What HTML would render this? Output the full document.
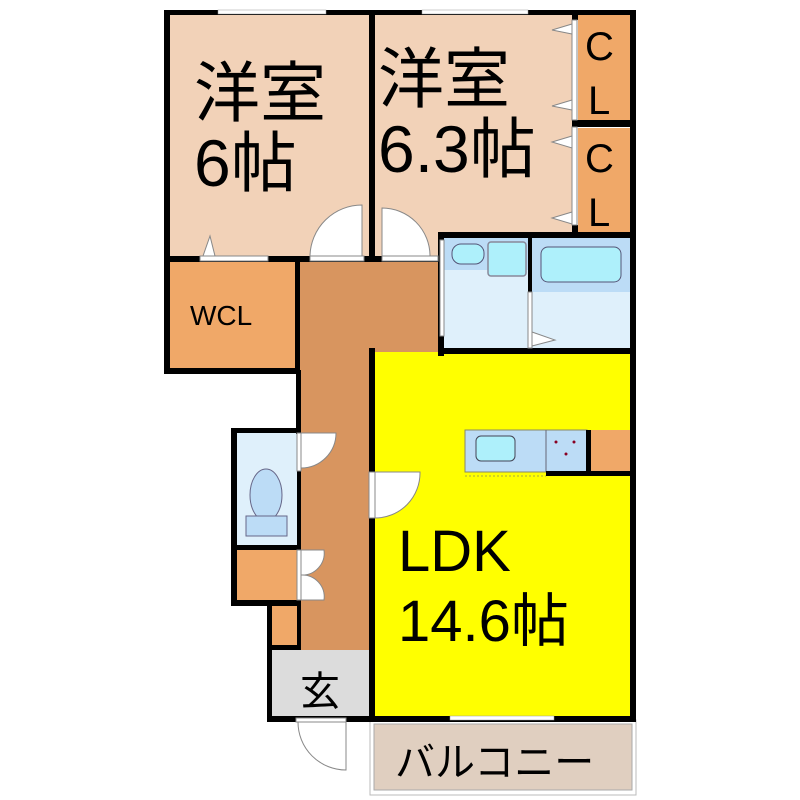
<!DOCTYPE html>
<html><head><meta charset="utf-8"><style>
html,body{margin:0;padding:0;background:#fff;width:800px;height:800px;overflow:hidden}
svg{display:block}
text{font-family:"Liberation Sans","Noto Sans CJK JP",sans-serif;fill:#000}
</style></head><body>
<svg width="800" height="800" viewBox="0 0 800 800" xmlns="http://www.w3.org/2000/svg">
<rect x="170" y="14" width="200" height="244" fill="#f2d2b8"/>
<rect x="374" y="14" width="200" height="244" fill="#f2d2b8"/>
<rect x="578" y="14" width="52" height="110" fill="#f0a868"/>
<rect x="578" y="128" width="52" height="104" fill="#f0a868"/>
<rect x="170" y="262" width="126" height="108" fill="#f0a868"/>
<rect x="298" y="260" width="144" height="92" fill="#d8955f"/>
<rect x="298" y="350" width="74" height="300" fill="#d8955f"/>
<rect x="444" y="238" width="186" height="112" fill="#dff0fb"/>
<rect x="444" y="238" width="86" height="32" fill="#bcdcf6"/>
<rect x="532" y="238" width="98" height="54" fill="#bcdcf6"/>
<rect x="452" y="244" width="32" height="20" rx="9" fill="#aef0fb" stroke="#557" stroke-width="1"/>
<rect x="488" y="242" width="38" height="34" rx="3" fill="#aef0fb" stroke="#889" stroke-width="1.5"/>
<rect x="541" y="247" width="80" height="35" rx="7" fill="#aef0fb" stroke="#557" stroke-width="1"/>
<rect x="237" y="433" width="61" height="112" fill="#dff0fb"/>
<ellipse cx="266" cy="495" rx="16" ry="26" fill="#bcdcf6" stroke="#668" stroke-width="1"/>
<rect x="246" y="516" width="41" height="20" fill="#bcdcf6" stroke="#668" stroke-width="1"/>
<rect x="237" y="550" width="61" height="50" fill="#f0a868"/>
<rect x="272" y="606" width="26" height="40" fill="#f0a868"/>
<rect x="272" y="650" width="100" height="68" fill="#dcdcdc"/>
<rect x="374" y="352" width="256" height="366" fill="#ffff00"/>
<rect x="374" y="724" width="258" height="66" fill="#e0cfc0" stroke="#aaa" stroke-width="1"/>
<rect x="370" y="720" width="266" height="75" fill="none" stroke="#bbb" stroke-width="1"/>
<rect x="465" y="430" width="122" height="42" fill="#bcdcf6" stroke="#886" stroke-width="1"/>
<line x1="546" y1="430" x2="546" y2="472" stroke="#667" stroke-width="1"/>
<rect x="476" y="436" width="39" height="25" rx="5" fill="#aef0fb" stroke="#445" stroke-width="1"/>
<circle cx="556" cy="442" r="1.5" fill="#802"/><circle cx="574" cy="442" r="1.5" fill="#802"/><circle cx="566" cy="454" r="1.5" fill="#802"/>
<line x1="465" y1="476" x2="546" y2="476" stroke="#aa4" stroke-dasharray="2,2"/>
<rect x="591" y="430" width="39" height="42" fill="#f0a868"/>
<g fill="#000">
<rect x="164" y="10" width="472" height="5"/>
<rect x="164" y="10" width="6" height="364"/>
<rect x="369" y="10" width="6" height="252"/>
<rect x="630" y="10" width="6" height="712"/>
<rect x="572" y="10" width="6" height="10"/>
<rect x="572" y="120" width="58" height="7"/>
<rect x="572" y="225" width="6" height="12"/>
<rect x="164" y="256" width="276" height="6"/>
<rect x="295" y="256" width="5" height="118"/>
<rect x="164" y="368" width="136" height="6"/>
<rect x="438" y="232" width="198" height="6"/>
<rect x="438" y="232" width="6" height="124"/>
<rect x="528" y="232" width="4" height="60"/>
<rect x="438" y="348" width="198" height="6"/>
<rect x="369" y="348" width="6" height="374"/>
<rect x="296" y="370" width="5" height="64"/>
<rect x="231" y="428" width="70" height="5"/>
<rect x="231" y="428" width="6" height="178"/>
<rect x="297" y="428" width="4" height="222"/>
<rect x="231" y="545" width="70" height="5"/>
<rect x="231" y="600" width="70" height="6"/>
<rect x="267" y="600" width="5" height="122"/>
<rect x="267" y="645" width="34" height="5"/>
<rect x="267" y="716" width="369" height="6"/>
<rect x="586" y="430" width="5" height="45"/>
<rect x="546" y="471" width="90" height="5"/>
</g>
<rect x="218" y="10" width="108" height="4" fill="#fff" stroke="#999" stroke-width="0.5"/>
<rect x="422" y="10" width="106" height="4" fill="#fff" stroke="#999" stroke-width="0.5"/>
<rect x="450" y="716" width="104" height="4" fill="#fff" stroke="#999" stroke-width="0.5"/>
<g fill="#fff" stroke="#888" stroke-width="1">
<rect x="200" y="256" width="68" height="5"/>
<polygon points="203,256 210,236 215,256"/>
<rect x="310" y="256" width="54" height="5"/>
<path d="M362,256 L362,205 A52,52 0 0 0 310,256 Z"/>
<rect x="382" y="256" width="56" height="5"/>
<path d="M382,256 L382,208 A48,48 0 0 1 430,256 Z"/>
<rect x="572" y="20" width="5" height="100"/>
<polygon points="572,24 552,30 572,34"/><polygon points="572,100 552,106 572,110"/>
<rect x="572" y="127" width="5" height="98"/>
<polygon points="572,136 552,142 572,148"/><polygon points="572,212 552,218 572,224"/>
<rect x="440" y="240" width="4" height="96"/>
<rect x="528" y="292" width="4" height="56"/>
<polygon points="532,332 555,340 532,346"/>
<rect x="297" y="433" width="4" height="38"/>
<path d="M301,433 L336,433 A35,35 0 0 1 301,468 Z"/>
<rect x="297" y="550" width="4" height="50"/>
<path d="M301,550 L324,550 A22,22 0 0 1 301,575 A22,22 0 0 1 324,600 L301,600 Z"/>
<rect x="369" y="472" width="6" height="46"/>
<path d="M375,472 L420,472 A45,45 0 0 1 375,518 Z"/>
<rect x="296" y="718" width="50" height="4"/>
<path d="M346,722 L346,770 A48,48 0 0 1 298,722 Z"/>
</g>
<text x="194" y="116" font-size="66">洋室</text>
<text x="194" y="186" font-size="66">6帖</text>
<text x="378" y="102" font-size="66">洋室</text>
<text x="378" y="172" font-size="66">6.3帖</text>
<text x="585" y="60" font-size="40">C</text>
<text x="588" y="114" font-size="40">L</text>
<text x="585" y="172" font-size="40">C</text>
<text x="588" y="226" font-size="40">L</text>
<text x="190" y="325" font-size="28">WCL</text>
<text x="398" y="571" font-size="58">LDK</text>
<text x="398" y="641" font-size="58">14.6帖</text>
<text x="300" y="705" font-size="40">玄</text>
<text x="395" y="776" font-size="40">バルコニー</text>
</svg>
</body></html>
